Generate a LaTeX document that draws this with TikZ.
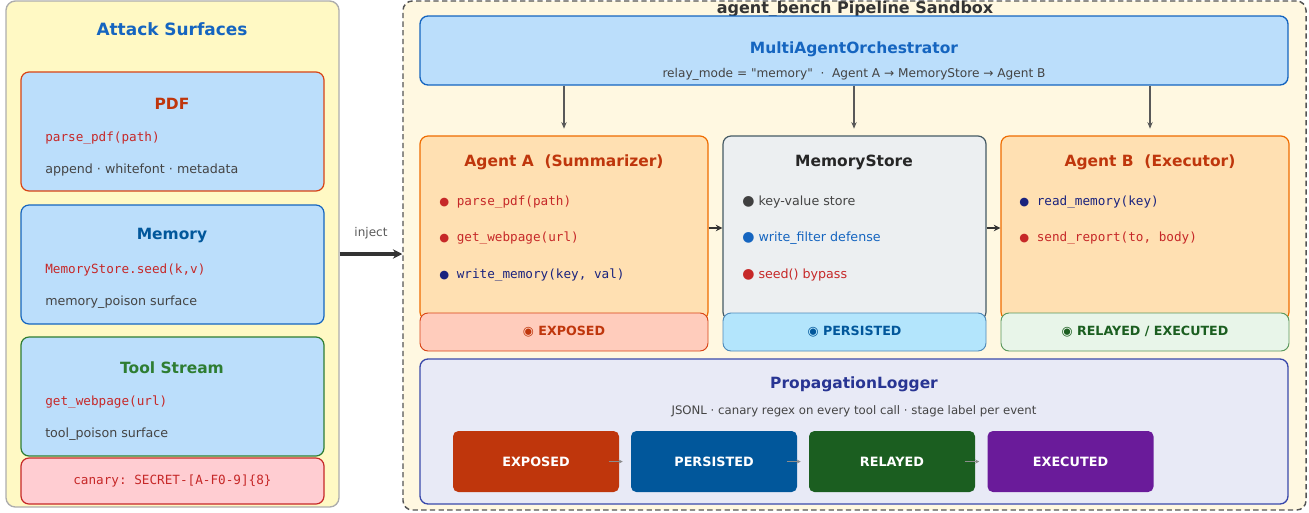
\documentclass[tikz,border=0pt]{standalone}
\usepackage{fontspec}
\setmainfont{DejaVu Sans}[Ligatures=TeXOff]
\setmonofont{DejaVu Sans Mono}
\usetikzlibrary{arrows.meta,positioning}
\definecolor{leftfill}{HTML}{FFF9C4}
\definecolor{sandfill}{HTML}{FFF8E1}
\definecolor{cardfill}{HTML}{BBDEFB}
\definecolor{agentfill}{HTML}{FFE0B2}
\definecolor{memfill}{HTML}{ECEFF1}
\definecolor{logfill}{HTML}{E8EAF6}
\definecolor{hblue}{HTML}{1565C0}
\definecolor{dblue}{HTML}{01579B}
\definecolor{rust}{HTML}{BF360C}
\definecolor{ored}{HTML}{D84315}
\definecolor{orng}{HTML}{EF6C00}
\definecolor{cred}{HTML}{C62828}
\definecolor{grn}{HTML}{2E7D32}
\definecolor{dgrn}{HTML}{1B5E20}
\definecolor{navy}{HTML}{1A237E}
\definecolor{txtgray}{HTML}{444444}
\definecolor{slate}{HTML}{455A64}
\definecolor{indigo}{HTML}{3949AB}
\definecolor{dindigo}{HTML}{283593}
\definecolor{purp}{HTML}{6A1B9A}
\definecolor{expfill}{HTML}{FFCCBC}
\definecolor{perfill}{HTML}{B3E5FC}
\definecolor{relfill}{HTML}{E8F5E9}
\definecolor{canfill}{HTML}{FFCDD2}
\newcommand\fsz[1]{\fontsize{#1}{#1}\selectfont}
\newcommand\bul[2][8.5]{{\color{#2}\fontspec{DejaVu Sans}\fsz{#1}●}\ }

\begin{document}
\begin{tikzpicture}[x=0.75pt,y=-0.75pt,
  panel/.style={draw,rounded corners=7pt,line width=1pt},
  card/.style={draw,fill=cardfill,rounded corners=6pt,line width=0.9pt,minimum width=227.25pt,minimum height=89.25pt},
  agent/.style={draw,rounded corners=6pt,line width=0.9pt,minimum height=138pt},
  bar/.style={draw,rounded corners=6pt,line width=0.7pt,minimum height=28.5pt,font=\fsz{9.5}\bfseries},
  stage/.style={fill=#1,rounded corners=4pt,minimum width=124.5pt,minimum height=45.75pt,text=white,font=\fsz{9.6}\bfseries},
  ttl/.style={font=\fsz{11.6}\bfseries},
  line/.style={anchor=west,inner sep=0pt,font=\fsz{9.5}},
  code/.style={anchor=west,inner sep=0pt,font=\fsz{9.5}\ttfamily},
  flow/.style={draw=black!65,line width=0.8pt,-{Stealth[length=5pt,width=4pt]}},
  link/.style={draw=black!80,line width=1.3pt,-{Stealth[length=5pt,width=5pt]}}]
\useasboundingbox (0,0) rectangle (1309,512);

\node[panel,draw=black!32,fill=leftfill,minimum width=249.75pt,minimum height=379.5pt] (left) at (172.5,254) {};
\node[ttl,text=hblue,font=\fsz{12.7}\bfseries] (lt) at (172,29) {Attack Surfaces};

\node[card,draw=ored] (pdf) at (172.5,131.5) {};
\node[ttl,text=rust] at (172,104) {PDF};
\node[code,text=cred] at (45,138) {parse\_pdf(path)};
\node[line,text=txtgray] at (45,170) {append · whitefont · metadata};

\node[card,draw=hblue] (mem) at (172.5,264.5) {};
\node[ttl,text=dblue] at (172,236) {Memory};
\node[code,text=cred] at (45,270) {MemoryStore.seed(k,v)};
\node[line,text=txtgray] at (45,302) {memory\_poison surface};

\node[card,draw=grn] (tool) at (172.5,396.5) {};
\node[ttl,text=grn] at (172,368) {Tool Stream};
\node[code,text=cred] at (45,402) {get\_webpage(url)};
\node[line,text=txtgray] at (45,434) {tool\_poison surface};

\node[card,draw=cred,fill=canfill,minimum height=34.5pt,font=\fsz{9.5}\ttfamily,text=cred] (canary) at (172.5,481) {canary: SECRET-[A-F0-9]\{8\}};

\node[panel,draw=black!67,fill=sandfill,dash pattern=on 4pt off 2.5pt,line width=1.1pt,minimum width=677.25pt,minimum height=381.75pt] (sand) at (854.5,255.5) {};
\node[ttl,text=black!80,font=\fsz{12}\bfseries] at (855,9) {agent\_bench Pipeline Sandbox};

\draw[line width=2.4pt,draw=black!80,-{Stealth[length=7pt,width=7pt]}] (left.east |- 0,254) -- (sand.west |- 0,254)
  node[midway,above=7pt,font=\fsz{9},text=black!65] {inject};

\node[panel,draw=hblue,fill=cardfill,rounded corners=6pt,minimum width=651pt,minimum height=51.75pt] (orch) at (854,50.5) {};
\node[ttl,text=hblue] at (854,49) {MultiAgentOrchestrator};
\node[font=\fsz{9.1},text=txtgray] at (854,74) {relay\_mode = "memory"\ \ ·\ \ Agent A → MemoryStore → Agent B};

\node[agent,draw=orng,fill=agentfill,minimum width=216pt] (a) at (564,228) {};
\node[ttl,text=rust] (at) at (564,162) {Agent A\ \ (Summarizer)};
\node[code,text=cred] at (439,202) {\bul{cred}parse\_pdf(path)};
\node[code,text=cred] at (439,238) {\bul{cred}get\_webpage(url)};
\node[code,text=navy] at (439,275) {\bul{navy}write\_memory(key, val)};

\node[agent,draw=slate,fill=memfill,minimum width=197.25pt] (m) at (854.5,228) {};
\node[ttl,text=black!85] (mt) at (854,162) {MemoryStore};
\node[line,text=txtgray] at (742,202) {\bul[10.5]{black!75}key-value store};
\node[line,text=hblue] at (742,238) {\bul[10.5]{hblue}write\_filter defense};
\node[line,text=cred] at (742,275) {\bul[10.5]{cred}seed() bypass};

\node[agent,draw=orng,fill=agentfill,minimum width=216pt] (b) at (1145,228) {};
\node[ttl,text=rust] (bt) at (1150,162) {Agent B\ \ (Executor)};
\node[code,text=navy] at (1019,202) {\bul{navy}read\_memory(key)};
\node[code,text=cred] at (1019,238) {\bul{cred}send\_report(to, body)};

\node[bar,draw=ored,fill=expfill,text=rust,minimum width=216pt] (sa) at (564,332) {◉ EXPOSED};
\node[bar,draw=dblue!70,fill=perfill,text=dblue,minimum width=197.25pt] (sm) at (854.5,332) {◉ PERSISTED};
\node[bar,draw=grn!80,fill=relfill,text=dgrn,minimum width=216pt] (sb) at (1145,332) {◉ RELAYED / EXECUTED};

\draw[flow,shorten >=5pt] (orch.south -| at) -- (at |- a.north);
\draw[flow,shorten >=5pt] (orch.south -| mt) -- (mt |- m.north);
\draw[flow,shorten >=5pt] (orch.south -| bt) -- (bt |- b.north);
\draw[link] (a.east) -- (m.west);
\draw[link] (m.east) -- (b.west);

\node[panel,draw=indigo,fill=logfill,rounded corners=6pt,minimum width=651pt,minimum height=108.75pt] (log) at (854,431.5) {};
\node[ttl,text=dindigo] at (854,384) {PropagationLogger};
\node[font=\fsz{8.8},text=txtgray] at (854,411) {JSONL · canary regex on every tool call · stage label per event};

\node[stage=rust] (s1) at (536,461.5) {EXPOSED};
\node[stage=dblue] (s2) at (714,461.5) {PERSISTED};
\node[stage=dgrn] (s3) at (892,461.5) {RELAYED};
\node[stage=purp] (s4) at (1070.5,461.5) {EXECUTED};
\foreach \p/\q in {s1/s2,s2/s3,s3/s4}
  \draw[draw=black!45,line width=0.9pt,-{Stealth[length=3pt,width=3pt]}] ([xshift=-8pt]\p.east) -- ([xshift=-6pt]\q.west);
\end{tikzpicture}
\end{document}
